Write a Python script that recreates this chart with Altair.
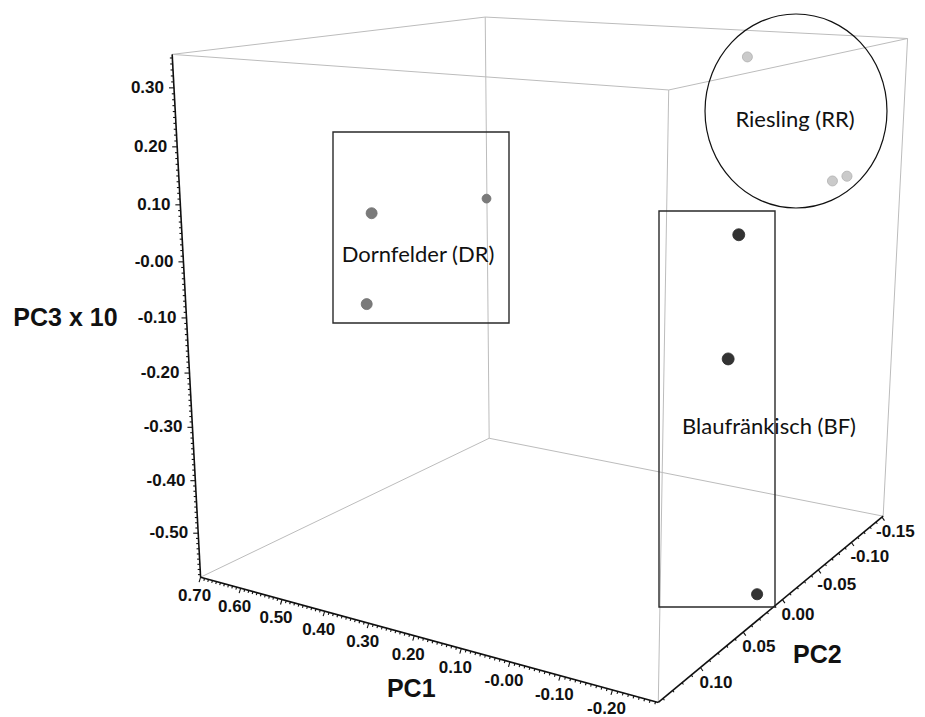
import numpy as np
import pandas as pd
import altair as alt

# ---------------- data ----------------
grape = ["DR", "DR", "DR", "BF", "BF", "BF", "RR", "RR", "RR"]
pc1 = [0.444, 0.690, 0.430, -0.247, -0.259, -0.270, 0.032, -0.147, -0.185]
pc2 = [0.077, -0.147, 0.089, 0.045, 0.061, 0.024, -0.137, -0.148, -0.1425]
pc3x10 = [0.075, -0.032, -0.079, 0.090, -0.103, -0.550, 0.310, 0.079, 0.094]

pc1_range = [0.70, -0.285]
pc2_range = [0.145, -0.152]
pc3_range = [-0.585, 0.356]

pc1_ticks = [0.70, 0.60, 0.50, 0.40, 0.30, 0.20, 0.10, 0.00, -0.10, -0.20]
pc1_labels = ["0.70", "0.60", "0.50", "0.40", "0.30", "0.20", "0.10", "-0.00", "-0.10", "-0.20"]
pc2_ticks = [0.10, 0.05, 0.00, -0.05, -0.10, -0.15]
pc2_labels = ["0.10", "0.05", "0.00", "-0.05", "-0.10", "-0.15"]
pc3_ticks = [0.30, 0.20, 0.10, 0.00, -0.10, -0.20, -0.30, -0.40, -0.50]
pc3_labels = ["0.30", "0.20", "0.10", "-0.00", "-0.10", "-0.20", "-0.30", "-0.40", "-0.50"]

axis_titles = ["PC3 x 10", "PC1", "PC2"]

group_text = ["Dornfelder (DR)", "Blaufränkisch (BF)", "Riesling (RR)"]
group_text_x = [418, 769, 795]
group_text_y = [255, 427, 120]
box_x1 = [333, 659]
box_x2 = [509, 775]
box_y1 = [132, 211]
box_y2 = [323, 607]
ring_x = [796]
ring_y = [111]

# ---------------- camera (page pixel positions of the box corners) ----------------
X0, X1 = pc1_range
YF, YB = pc2_range
ZB, ZT = pc3_range
corner_uvw = [(0, 0, 0), (0, 0, 1), (1, 0, 0), (1, 0, 1), (1, 1, 0), (1, 1, 1), (0, 1, 1), (0, 1, 0)]
corner_px = [(200, 577), (172, 55), (658, 702), (670, 90), (883, 517), (907, 38), (485, 17), (490, 438)]
A = []
for (a, b, c), (u, v) in zip(corner_uvw, corner_px):
    u /= 1000.0
    v /= 1000.0
    A.append([a, b, c, 1, 0, 0, 0, 0, -u * a, -u * b, -u * c, -u])
    A.append([0, 0, 0, 0, a, b, c, 1, -v * a, -v * b, -v * c, -v])
_, _, Vt = np.linalg.svd(np.array(A))
P = Vt[-1].reshape(3, 4)
P[0] *= 1000.0
P[1] *= 1000.0
P = P / (P[2] @ np.array([0.5, 0.5, 0.5, 1.0]))


def proj_expr(fx, fy, fz):
    a = f"((datum.{fx}-({X0}))/({X1 - X0}))"
    b = f"((datum.{fy}-({YF}))/({YB - YF}))"
    c = f"((datum.{fz}-({ZB}))/({ZT - ZB}))"

    def row(i):
        return f"({P[i,0]:.8f}*{a}+{P[i,1]:.8f}*{b}+{P[i,2]:.8f}*{c}+{P[i,3]:.8f})"

    w = row(2)
    return f"{row(0)}/{w}", f"{row(1)}/{w}", w


W, H = 909, 709
xs = alt.Scale(domain=[8, 8 + W], zero=False, nice=False)
ys = alt.Scale(domain=[8, 8 + H], zero=False, nice=False, reverse=True)
XE = lambda f: alt.X(f, scale=xs, axis=None)
YE = lambda f: alt.Y(f, scale=ys, axis=None)

# ---------------- box edges ----------------
lo = {"x": X0, "y": YF, "z": ZB}
hi = {"x": X1, "y": YB, "z": ZT}
edges = []
for axis in ["x", "y", "z"]:
    others = [o for o in ["x", "y", "z"] if o != axis]
    for s1 in (0, 1):
        for s2 in (0, 1):
            p = {axis: lo[axis]}
            q = {axis: hi[axis]}
            for o, s in zip(others, (s1, s2)):
                p[o] = lo[o] if s == 0 else hi[o]
                q[o] = p[o]
            is_axis = (axis == "x" and s1 == 0 and s2 == 0) or \
                      (axis == "z" and s1 == 0 and s2 == 0) or \
                      (axis == "y" and s1 == 1 and s2 == 0)
            edges.append({"x": p["x"], "y": p["y"], "z": p["z"],
                          "xe": q["x"], "ye": q["y"], "ze": q["z"],
                          "kind": "axis" if is_axis else "edge"})
edges = pd.DataFrame(edges)

ex, ey, _ = proj_expr("x", "y", "z")
ex2, ey2, _ = proj_expr("xe", "ye", "ze")


def edge_layer(kind, color, width):
    return alt.Chart(edges).transform_filter(alt.datum.kind == kind).transform_calculate(
        sx=ex, sy=ey, sx2=ex2, sy2=ey2
    ).mark_rule(color=color, strokeWidth=width).encode(
        x=XE("sx:Q"), y=YE("sy:Q"), x2="sx2:Q", y2="sy2:Q"
    )


gray_edges = edge_layer("edge", "#bcbcbc", 1)
axis_lines = edge_layer("axis", "#111111", 1.6)

# ---------------- ticks ----------------
def frange(a, b, step):
    n = int(round((b - a) / step))
    return [round(a + i * step, 4) for i in range(n + 1)]


def is_major(v, per):
    return abs(round(v * per) - v * per) < 1e-6


tick_rows = []
for v in frange(-0.58, 0.35, 0.01):
    tick_rows.append({"x": X0, "y": YF, "z": v, "ax": "z", "len": 5 if is_major(v, 10) else 2.5})
for v in frange(-0.28, 0.70, 0.01):
    tick_rows.append({"x": v, "y": YF, "z": ZB, "ax": "x", "len": 5 if is_major(v, 10) else 2.5})
for v in frange(-0.15, 0.14, 0.01):
    tick_rows.append({"x": X1, "y": v, "z": ZB, "ax": "y", "len": 5 if is_major(v, 20) else 2.5})
ticks = pd.DataFrame(tick_rows)

tick_layer = alt.Chart(ticks).transform_calculate(sx=ex, sy=ey).transform_calculate(
    sx2="datum.ax=='z' ? datum.sx-datum.len : (datum.ax=='x' ? datum.sx-0.3*datum.len : datum.sx+0.5*datum.len)",
    sy2="datum.ax=='z' ? datum.sy : (datum.ax=='x' ? datum.sy+datum.len : datum.sy+0.7*datum.len)",
).mark_rule(color="#111111", strokeWidth=1.1).encode(
    x=XE("sx:Q"), y=YE("sy:Q"), x2="sx2:Q", y2="sy2:Q"
)

lab_font = "Liberation Sans"
pc1_df = pd.DataFrame({"x": pc1_ticks, "y": YF, "z": ZB, "label": pc1_labels})
pc2_df = pd.DataFrame({"x": X1, "y": pc2_ticks, "z": ZB, "label": pc2_labels})
pc3_df = pd.DataFrame({"x": X0, "y": YF, "z": pc3_ticks, "label": pc3_labels})


def label_layer(df, align, dx, dy, xmax=10000):
    return alt.Chart(df).transform_calculate(sx=ex, sy=ey).transform_calculate(
        tx=f"min(datum.sx+({dx}), {xmax})", ty=f"datum.sy+({dy})"
    ).mark_text(
        align=align, baseline="middle", font=lab_font, fontSize=17,
        fontWeight="bold", color="#111111"
    ).encode(x=XE("tx:Q"), y=YE("ty:Q"), text="label:N")


pc1_lab = label_layer(pc1_df, "center", -6, 19)
pc2_lab = label_layer(pc2_df, "left", -1, 15, xmax=876)
pc3_lab = label_layer(pc3_df, "right", -10, 0)

# axis titles anchored on their axes
title_df = pd.DataFrame({
    "x": [X0, 0.20, X1], "y": [YF, YF, 0.0], "z": [-0.10, ZB, ZB],
    "label": axis_titles,
    "ddx": [-121, -3, 35], "ddy": [0, 53, 55],
})
title_layer = alt.Chart(title_df).transform_calculate(sx=ex, sy=ey).transform_calculate(
    tx="datum.sx+datum.ddx", ty="datum.sy+datum.ddy"
).mark_text(font=lab_font, fontSize=25, fontWeight="bold", color="#111111", align="center", baseline="middle").encode(
    x=XE("tx:Q"), y=YE("ty:Q"), text="label:N"
)

# ---------------- points ----------------
pts = pd.DataFrame({"grape": grape, "x": pc1, "y": pc2, "z": pc3x10})
pw = proj_expr("x", "y", "z")
point_layer = alt.Chart(pts).transform_calculate(sx=pw[0], sy=pw[1], w=pw[2]).transform_calculate(
    sz="pow(10.5/datum.w, 2)"
).mark_point(filled=True, opacity=1, strokeWidth=0.8).encode(
    x=XE("sx:Q"), y=YE("sy:Q"),
    size=alt.Size("sz:Q", scale=None, legend=None),
    color=alt.Color("grape:N", scale=alt.Scale(domain=["DR", "BF", "RR"], range=["#7a7a7a", "#333333", "#cacaca"]), legend=None),
    stroke=alt.Stroke("grape:N", scale=alt.Scale(domain=["DR", "BF", "RR"], range=["#6e6e6e", "#2a2a2a", "#b0b0b0"]), legend=None),
)

# ---------------- annotations ----------------
box_df = pd.DataFrame({"x1": box_x1, "x2": box_x2, "y1": box_y1, "y2": box_y2})
box_layer = alt.Chart(box_df).mark_rect(fillOpacity=0, stroke="#2a2a2a", strokeWidth=1.4).encode(
    x=XE("x1:Q"), x2="x2:Q", y=YE("y1:Q"), y2="y2:Q"
)
ring_df = pd.DataFrame({"x": ring_x, "y": ring_y})
ellipse = "M -0.938 0 A 0.938 1 0 1 0 0.938 0 A 0.938 1 0 1 0 -0.938 0 Z"
ring_layer = alt.Chart(ring_df).mark_point(shape=ellipse, size=194 * 194, filled=False, stroke="#111111", strokeWidth=1.2, opacity=1).encode(
    x=XE("x:Q"), y=YE("y:Q")
)
gtext_df = pd.DataFrame({"x": group_text_x, "y": group_text_y, "label": group_text})
gtext_layer = alt.Chart(gtext_df).mark_text(font="Lato", fontSize=22, color="#111111", align="center", baseline="middle").encode(
    x=XE("x:Q"), y=YE("y:Q"), text="label:N"
)

chart = alt.layer(
    gray_edges, axis_lines, tick_layer, pc1_lab, pc2_lab, pc3_lab, title_layer,
    box_layer, ring_layer, point_layer, gtext_layer
).properties(width=W, height=H, padding=0, autosize=alt.AutoSizeParams(type="none")).configure_view(strokeWidth=0)

chart.save("out.html", embed_options={"renderer": "svg", "actions": False})
